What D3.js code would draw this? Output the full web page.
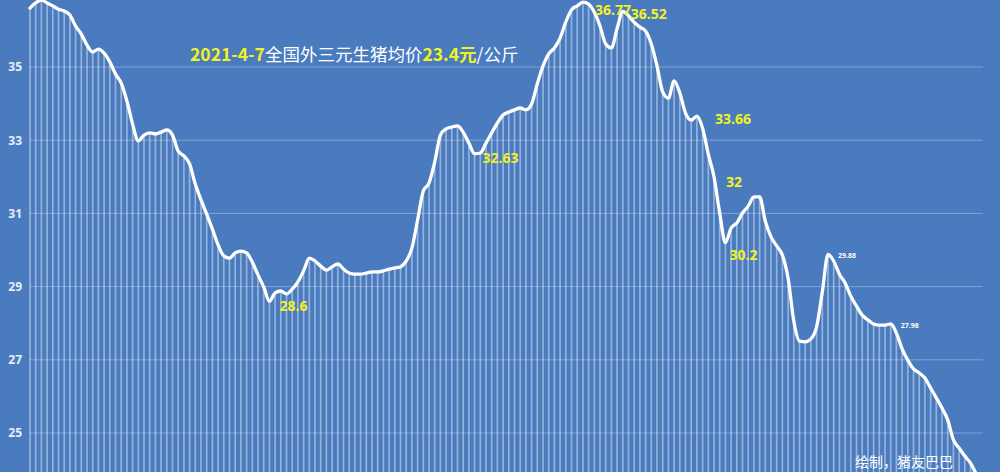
<!DOCTYPE html>
<html><head><meta charset="utf-8">
<script src="https://cdn.jsdelivr.net/npm/d3@7"></script>
<style>
html,body{margin:0;padding:0;background:#4a7bbf;}
svg{display:block;}
</style></head>
<body>
<svg id="c" width="1000" height="472"></svg>
<script>
// ---- data ----
const prices = [
36.61,36.75,36.83,36.75,36.67,36.58,36.53,36.42,36.12,35.90,
35.60,35.41,35.49,35.38,35.14,34.81,34.56,34.07,33.44,32.98,
33.14,33.20,33.17,33.22,33.28,33.14,32.70,32.57,32.35,31.80,
31.37,30.98,30.57,30.14,29.84,29.78,29.92,29.97,29.92,29.67,
29.32,28.99,28.60,28.83,28.88,28.80,28.93,29.13,29.43,29.78,
29.70,29.56,29.45,29.54,29.62,29.48,29.37,29.34,29.34,29.37,
29.40,29.40,29.43,29.48,29.51,29.54,29.70,30.05,30.82,31.61,
31.83,32.40,33.14,33.31,33.36,33.39,33.22,32.92,32.63,32.65,
32.92,33.20,33.47,33.69,33.77,33.83,33.88,33.83,33.99,34.54,
35.03,35.36,35.52,35.79,36.23,36.56,36.67,36.77,36.72,36.50,
36.12,35.63,35.52,36.05,36.52,36.40,36.22,36.09,35.98,35.63,
35.03,34.32,34.15,34.62,34.29,33.74,33.55,33.66,33.33,32.62,
32.00,31.01,30.20,30.60,30.74,31.01,31.20,31.45,31.45,30.79,
30.36,30.11,29.86,29.23,28.06,27.51,27.49,27.57,27.90,28.85,
29.88,29.70,29.34,29.10,28.74,28.47,28.22,28.09,27.98,27.95,
27.95,27.98,27.73,27.30,26.99,26.75,26.64,26.50,26.23,25.96,
25.68,25.36,24.81,24.59,24.37,24.18,23.88
];
const yTicks = [25, 27, 29, 31, 33, 35];
const bigLabelIdx  = [42, 78, 97, 104, 117, 120, 122];
const bigLabelText = ["28.6", "32.63", "36.77", "36.52", "33.66", "32", "30.2"];
const smallLabelIdx  = [140, 151];
const smallLabelText = ["29.88", "27.98"];
const titleParts = [
  {t:"2021-4-7", hl:true}, {t:"全国外三元生猪均价", hl:false},
  {t:"23.4元", hl:true}, {t:"/公斤", hl:false}
];
const credit = "绘制，猪友巴巴";

// ---- styles / layout ----
const W = 1000, H = 472;
const bg = "#4a7bbf", yellow = "#f2f21e";
const bigOffsets = [[10,6],[8,6],[12,9],[8,4],[18,4],[12,6],[4,14]];
const smallOffsets = [[10,2],[10,2]];

const svg = d3.select("#c");
svg.append("rect").attr("width",W).attr("height",H).attr("fill",bg);

const x = d3.scaleLinear().domain([0, prices.length-1]).range([30, 976.2]);
const y = d3.scaleLinear().domain([25, 35]).range([433, 67]);

// grid
svg.append("g").selectAll("line").data(yTicks).join("line")
  .attr("x1",30).attr("x2",983)
  .attr("y1",d=>y(d)).attr("y2",d=>y(d))
  .attr("stroke","#ffffff").attr("stroke-opacity",0.3).attr("stroke-width",1);

// axis labels
const yAxis = d3.axisLeft(y).tickValues(yTicks).tickSize(0).tickPadding(0).tickFormat(d3.format("d"));
const ga = svg.append("g").attr("transform","translate(22,0)").call(yAxis);
ga.select(".domain").remove();
ga.selectAll("text").attr("fill","#e8eef8").attr("font-size",12).attr("font-weight","bold")
  .attr("font-family","'Open Sans','DejaVu Sans',sans-serif");

// bars
svg.append("g").selectAll("line").data(prices).join("line")
  .attr("x1",(d,i)=>x(i)).attr("x2",(d,i)=>x(i))
  .attr("y1",d=>y(d)).attr("y2",H)
  .attr("stroke","#ffffff").attr("stroke-opacity",0.42).attr("stroke-width",1.7);

// line
const line = d3.line().x((d,i)=>x(i)).y(d=>y(d)).curve(d3.curveMonotoneX);
svg.append("path").datum(prices).attr("d",line)
  .attr("fill","none").attr("stroke","#ffffff").attr("stroke-width",3.3)
  .attr("stroke-linejoin","round").attr("stroke-linecap","round");

// big labels
const fontNum = "'Open Sans','Noto Sans','DejaVu Sans',sans-serif";
svg.append("g").selectAll("text").data(bigLabelIdx).join("text")
  .attr("x",(d,k)=>x(d)+bigOffsets[k][0])
  .attr("y",(d,k)=>y(prices[d])+bigOffsets[k][1])
  .attr("dominant-baseline","middle")
  .attr("fill",yellow).attr("font-size",14).attr("font-weight","bold")
  .attr("font-family",fontNum)
  .text((d,k)=>bigLabelText[k]);

// small labels
svg.append("g").selectAll("text").data(smallLabelIdx).join("text")
  .attr("x",(d,k)=>x(d)+smallOffsets[k][0])
  .attr("y",(d,k)=>y(prices[d])+smallOffsets[k][1])
  .attr("dominant-baseline","middle")
  .attr("fill","#ffffff").attr("font-size",7).attr("font-weight","bold")
  .attr("font-family",fontNum)
  .text((d,k)=>smallLabelText[k]);

// title
const title = svg.append("text").attr("x",190).attr("y",56)
  .attr("dominant-baseline","middle")
  .attr("font-size",17.5).attr("font-weight","bold")
  .attr("font-family","'Noto Sans CJK SC',sans-serif");
title.selectAll("tspan").data(titleParts).join("tspan")
  .attr("fill",d=>d.hl?yellow:"#ffffff")
  .attr("font-weight",d=>d.hl?"bold":"normal")
  .text(d=>d.t);

// credit
svg.append("text").attr("x",855).attr("y",463)
  .attr("dominant-baseline","middle")
  .attr("fill","#ffffff").attr("font-size",14)
  .attr("font-family","'Noto Sans CJK SC',sans-serif")
  .text(credit);
</script>
</body></html>
